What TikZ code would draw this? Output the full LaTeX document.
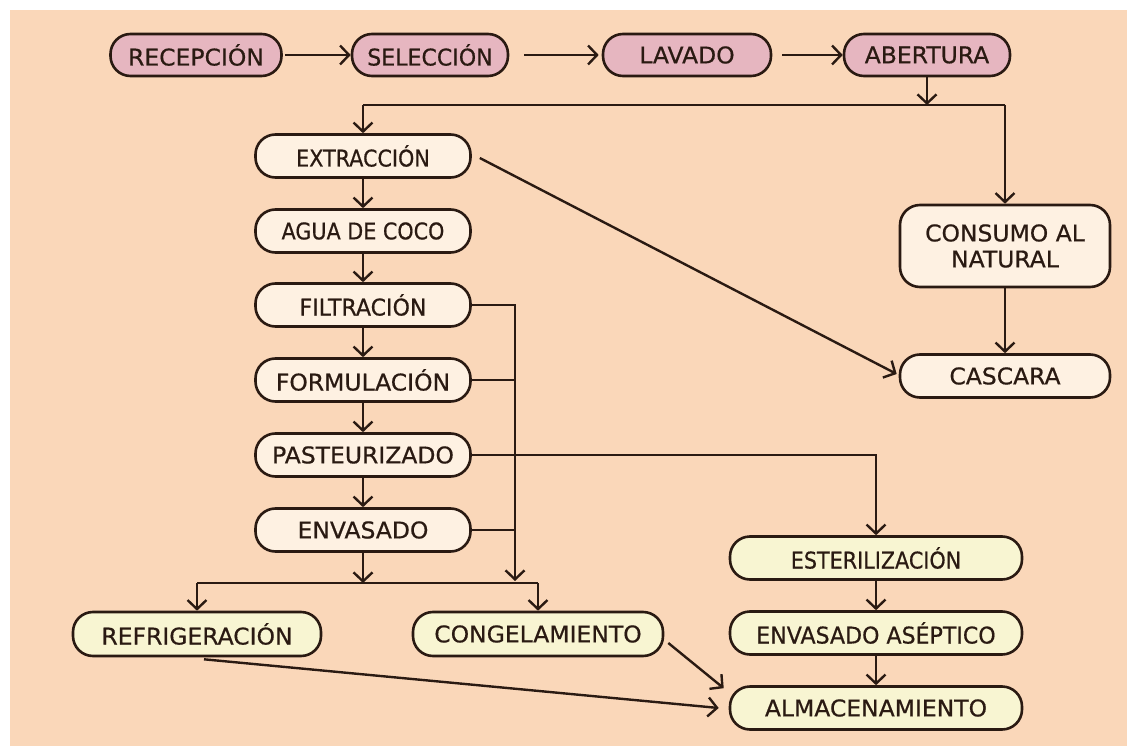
\documentclass[tikz,border=0pt]{standalone}
\usepackage{fontspec}
\setmainfont{DejaVu Sans}
\newfontfamily\wfont[FakeStretch=1.02,FakeBold=0.6]{DejaVu Sans}
\newfontfamily\mfont[FakeStretch=0.96,FakeBold=0.6]{DejaVu Sans}
\newfontfamily\nfont[FakeStretch=0.90,FakeBold=0.6]{DejaVu Sans}
\usetikzlibrary{arrows.meta,calc}
\definecolor{peach}{HTML}{FAD7B9}
\definecolor{pinkfill}{HTML}{E6B6C0}
\definecolor{creamfill}{HTML}{FEF1E2}
\definecolor{yelfill}{HTML}{F8F5D2}
\definecolor{ink}{HTML}{2A1A12}
\begin{document}
\begin{tikzpicture}[x=1pt,y=-1pt,
  box/.style={draw=ink, line width=2.6pt, rounded corners=20pt, minimum height=43pt,
    inner sep=0pt, text=ink, font=\wfont\fontsize{23}{26}\selectfont, align=center},
  pk/.style={box, fill=pinkfill, minimum height=42pt},
  cr/.style={box, fill=creamfill},
  yl/.style={box, fill=yelfill},
  ln/.style={draw=ink, line width=2.4pt},
  arr/.style={ln, -{Straight Barb[length=9pt,width=19pt,line width=2.4pt]}}]
\useasboundingbox (0,0) rectangle (1127,746);
\fill[white] (0,0) rectangle (1127,746);
\fill[peach] (10,10) rectangle (1127,746);

% top row
\node[pk, minimum width=171pt] (rec) at (196,55) {RECEPCIÓN};
\node[pk, minimum width=156pt, font=\mfont\fontsize{23}{26}\selectfont] (sel) at (430,55) {SELECCIÓN};
\node[pk, minimum width=168pt] (lav) at (687,55) {LAVADO};
\node[pk, minimum width=166pt] (abe) at (927,55) {ABERTURA};

% left column
\node[cr, minimum width=215pt, font=\nfont\fontsize{23}{26}\selectfont] (ext) at (363,156) {EXTRACCIÓN};
\node[cr, minimum width=215pt, font=\nfont\fontsize{23}{26}\selectfont] (agua) at (363,231) {AGUA DE COCO};
\node[cr, minimum width=215pt, font=\mfont\fontsize{23}{26}\selectfont] (fil) at (363,305) {FILTRACIÓN};
\node[cr, minimum width=215pt] (form) at (363,380) {FORMULACIÓN};
\node[cr, minimum width=215pt] (past) at (363,455) {PASTEURIZADO};
\node[cr, minimum width=215pt] (env) at (363,530) {ENVASADO};

% right column
\node[cr, minimum width=210pt, minimum height=82pt] (cons) at (1005,246) {CONSUMO AL\\NATURAL};
\node[cr, minimum width=210pt] (casc) at (1005,376) {CASCARA};

% bottom
\node[yl, minimum width=248pt, minimum height=44pt] (refr) at (197,634) {REFRIGERACIÓN};
\node[yl, minimum width=250pt, minimum height=44pt] (cong) at (538,634) {CONGELAMIENTO};
\node[yl, minimum width=292pt, font=\nfont\fontsize{23}{26}\selectfont] (est) at (876,558) {ESTERILIZACIÓN};
\node[yl, minimum width=292pt, font=\mfont\fontsize{23}{26}\selectfont] (asep) at (876,633) {ENVASADO ASÉPTICO};
\node[yl, minimum width=292pt] (alm) at (876,708) {ALMACENAMIENTO};

% junction coordinates
\coordinate (jl) at (363,105);
\coordinate (jr) at (1005,105);
\coordinate (bus) at (515,581);
\coordinate (sl) at (197,583);
\coordinate (sr) at (538,583);

% top row arrows
\draw[arr, shorten <=2pt] (rec.east) -- (sel.west);
\draw[arr, shorten <=15pt, shorten >=3pt] (sel.east) -- (lav.west);
\draw[arr, shorten <=10pt] (lav.east) -- (abe.west);
\draw[arr] (abe.south) -- (abe.south |- jl);
\draw[ln] (jl) -- (jr);
\draw[arr] (jl) -- (ext.north);
\draw[arr] (jr) -- (cons.north);

% left column arrows
\draw[arr] (ext) -- (agua);
\draw[arr] (agua) -- (fil);
\draw[arr] (fil) -- (form);
\draw[arr] (form) -- (past);
\draw[arr] (past) -- (env);

% bus
\draw[arr] (fil.east) -| (bus);
\draw[ln] (form.east) -- (form.east -| bus);
\draw[ln] (env.east) -- (env.east -| bus);
\draw[arr] (past.east) -| (est.north);

% split
\draw[arr] (env.south) -- (env.south |- sl);
\draw[ln] (sl) -- (sr);
\draw[arr] (sl) -- (refr.north);
\draw[arr] (sr) -- (cong.north);

% right column
\draw[arr] (cons) -- (casc);
\draw[arr] ($(ext.east)+(8,2)$) -- ($(casc.west)+(-2,-2)$);

% bottom right
\draw[arr] (est) -- (asep);
\draw[arr] (asep) -- (alm);
\draw[arr] ($(cong.east)+(4,9)$) -- ($(alm.north west)+(-5,3)$);
\draw[arr] ($(refr.south)+(7,2)$) -- ($(alm.west)+(-10,0)$);
\end{tikzpicture}
\end{document}
